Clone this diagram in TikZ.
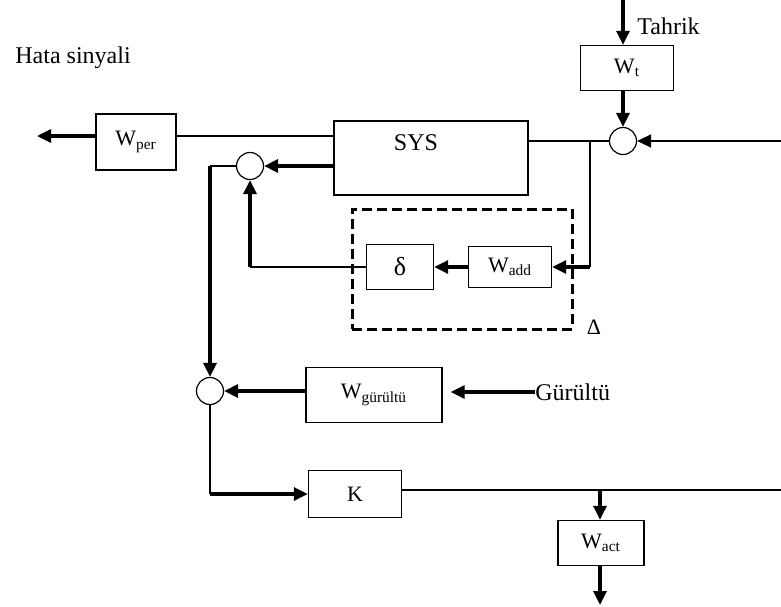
\documentclass[tikz,border=0pt]{standalone}
\usepackage{fontspec}
\setmainfont{Liberation Serif}
\usetikzlibrary{arrows.meta}
\tikzset{
  blk/.style={draw,line width=.7pt,inner sep=0pt,font=\fontsize{11}{13}\selectfont},
  sum/.style={draw,circle,line width=.6pt,minimum size=13.5pt,inner sep=0pt},
  thk/.style={line width=1.6pt},
  med/.style={line width=1.1pt},
  thn/.style={line width=.7pt},
  arr/.style={-{Triangle[length=7pt,width=6.5pt]}},
  lbl/.style={font=\fontsize{12}{14}\selectfont,inner sep=0pt}
}
\begin{document}
\begin{tikzpicture}[x=.5pt,y=-.5pt]
\useasboundingbox (0,0) rectangle (781,606);
% blocks
\node[blk,minimum width=40pt,minimum height=28pt] (wper) at (136,142) {W\textsubscript{per}};
\node[blk,minimum width=97pt,minimum height=37pt] (sys) at (431,158) {};
\node[lbl] (syst) at (416,143) {SYS};
\node[blk,minimum width=46.5pt,minimum height=22.5pt] (wt) at (627,68) {W\textsubscript{t}};
\node[draw,dashed,line width=1.5pt,dash pattern=on 5pt off 2.5pt,minimum width=110pt,minimum height=60pt] (unc) at (462,269) {};
\node[blk,minimum width=33.5pt,minimum height=22.5pt,font=\fontsize{13}{15}\selectfont] (dlt) at (400,267) {δ};
\node[blk,minimum width=41.5pt,minimum height=20.5pt] (wadd) at (510,267) {W\textsubscript{add}};
\node[blk,minimum width=68pt,minimum height=27.5pt] (wgur) at (374,395) {W\textsubscript{gürültü}};
\node[blk,minimum width=46.5pt,minimum height=23.5pt] (k) at (355,494) {K};
\node[blk,minimum width=43pt,minimum height=22.5pt] (wact) at (601,543) {W\textsubscript{act}};
% sums
\node[sum] (s1) at (250,166) {};
\node[sum] (s2) at (210,391) {};
\node[sum] (s3) at (623,141) {};
% labels
\node[lbl,anchor=west] (hata) at (15,58) {Hata sinyali};
\node[lbl,anchor=west] (tahrik) at (637,26) {Tahrik};
\node[lbl,anchor=west] (gur) at (535,392) {Gürültü};
\node[lbl,font=\fontsize{11}{13}\selectfont] (dlbl) at (594,327) {Δ};
% connectors
\coordinate (hout) at (37,136);
\coordinate (c1) at (210,166);
\coordinate (br1) at (590,141);
\coordinate (tin) at (623,0);
\coordinate (rin) at (781,141);
\coordinate (c3) at (210,494);
\coordinate (kout) at (781,490);
\coordinate (c4) at (600,490);
\coordinate (aout) at (600,605);
\draw[thk,arr] (wper.west |- hout) -- (hout);
\draw[med] (sys.west |- hout) -- (wper.east |- hout);
\draw[thk,arr] (sys.west |- s1) -- (s1.east);
\draw[thn] (s1.west) -- (c1);
\draw[thk,arr] (c1) -- (s2.north);
\draw[thn] (dlt.west) -- (dlt.west -| s1);
\draw[thk,arr] (dlt.west -| s1) -- (s1.south);
\draw[thk,arr] (wadd.west) -- (dlt.east);
\draw[thn] (sys.east |- s3) -- (s3.west);
\draw[med] (br1) -- (br1 |- wadd);
\draw[thk,arr] (br1 |- wadd) -- (wadd.east);
\draw[thk,arr] (tin) -- (tin |- wt.north);
\draw[thk,arr] (tin |- wt.south) -- (s3.north);
\draw[thn,arr] (rin) -- (s3.east);
\draw[thk,arr,shorten >=4pt] (gur.west) -- (wgur.east |- gur.west);
\draw[thk,arr] (wgur.west |- s2) -- (s2.east);
\draw[thn] (s2.south) -- (c3);
\draw[thk,arr] (c3) -- (c3 -| k.west);
\draw[med] (k.east |- kout) -- (kout);
\draw[thk,arr] (c4) -- (c4 |- wact.north);
\draw[thk,arr] (c4 |- wact.south) -- (aout);
\end{tikzpicture}
\end{document}
